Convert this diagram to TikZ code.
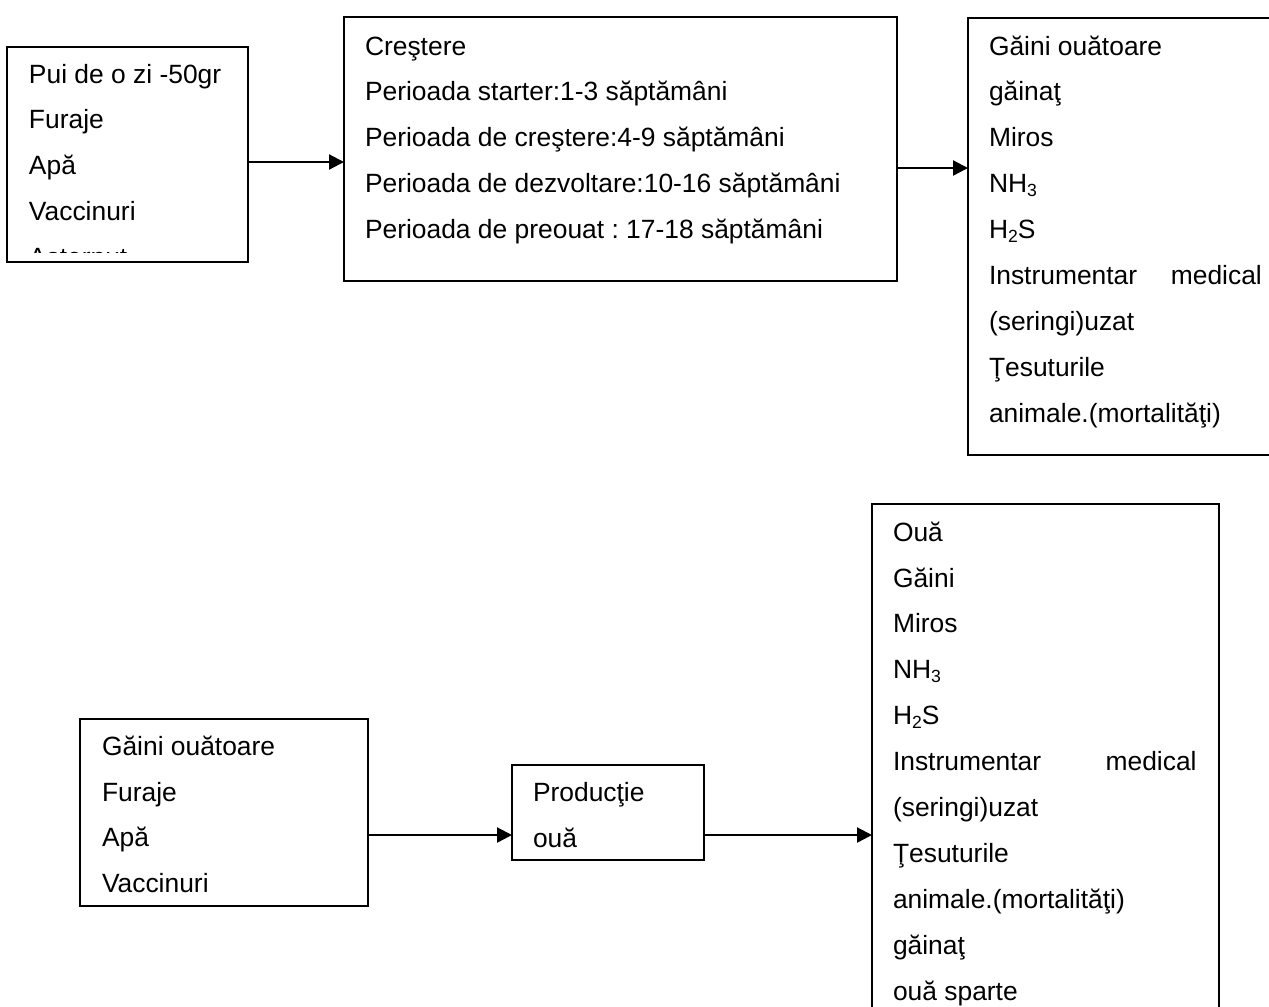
\documentclass[tikz,border=0pt]{standalone}
\usepackage{fontspec}
\setmainfont{Liberation Sans}
\usetikzlibrary{arrows.meta}
\frenchspacing
\tikzset{
  boxnode/.style={draw, line width=1pt, anchor=north west, inner sep=0pt, outer sep=0pt},
  txt/.style={anchor=base west, inner sep=0pt, outer sep=0pt, font=\fontsize{12pt}{20.9pt}\selectfont\frenchspacing},
  arr/.style={line width=1pt, -{Triangle[length=6.8pt,width=6.8pt]}},
}
\newcommand\mysub[1]{\raisebox{-0.25ex}{\fontsize{8pt}{8pt}\selectfont #1}}
\begin{document}
\begin{tikzpicture}[x=0.4545pt,y=-0.4545pt]
\useasboundingbox (0,0) rectangle (1269,1006);
\fill[white] (0,0) rectangle (1269,1006);
\clip (0,0) rectangle (1269,1006);
% boxes
\node[boxnode, minimum width=109.5pt, minimum height=97.7pt] (b1) at (7,47) {};
\node[boxnode, minimum width=251.3pt, minimum height=120.0pt] (b2) at (344,17) {};
\node[boxnode, minimum width=150.9pt, minimum height=198.6pt] (b3) at (968,18) {};
\node[boxnode, minimum width=130.9pt, minimum height=85.0pt] (b4) at (80,719) {};
\node[boxnode, minimum width=87.3pt, minimum height=43.2pt] (b5) at (512,765) {};
\node[boxnode, minimum width=157.7pt, minimum height=243.6pt] (b6) at (872,504) {};
% texts
\begin{scope}
\clip (8,48) rectangle (247,252);
\node[txt] (t1) at (29,83) {\begin{tabular}[t]{@{}l@{}}Pui de o zi -50gr\\ Furaje\\ Apă\\ Vaccinuri\\ Aşternut\end{tabular}};
\end{scope}
\node[txt] (t2) at (365,55) {\begin{tabular}[t]{@{}l@{}}Creştere\\ Perioada starter:1-3 săptămâni\\ Perioada de creştere:4-9 săptămâni\\ Perioada de dezvoltare:10-16 săptămâni\\ Perioada de preouat : 17-18 săptămâni\end{tabular}};
\node[txt] (t3) at (989,55) {\begin{tabular}[t]{@{}l@{}}Găini ouătoare\\ găinaţ\\ Miros\\ NH\mysub{3}\\ H\mysub{2}S\\ \makebox[124pt][l]{Instrumentar\hfill medical}\\ (seringi)uzat\\ Ţesuturile\\ animale.(mortalităţi)\end{tabular}};
\node[txt] (t4) at (102,755) {\begin{tabular}[t]{@{}l@{}}Găini ouătoare\\ Furaje\\ Apă\\ Vaccinuri\end{tabular}};
\node[txt] (t5) at (533,801) {\begin{tabular}[t]{@{}l@{}}Producţie\\ ouă\end{tabular}};
\node[txt] (t6) at (893,541) {\begin{tabular}[t]{@{}l@{}}Ouă\\ Găini\\ Miros\\ NH\mysub{3}\\ H\mysub{2}S\\ \makebox[138pt][l]{Instrumentar\hfill medical}\\ (seringi)uzat\\ Ţesuturile\\ animale.(mortalităţi)\\ găinaţ\\ ouă sparte\end{tabular}};
% connectors
\draw[arr] (b1.east |- 0,162) -- (b2.west |- 0,162);
\draw[arr] (b2.east |- 0,168) -- (b3.west |- 0,168);
\draw[arr] (b4.east |- 0,835) -- (b5.west |- 0,835);
\draw[arr] (b5.east |- 0,835) -- (b6.west |- 0,835);
\end{tikzpicture}
\end{document}
